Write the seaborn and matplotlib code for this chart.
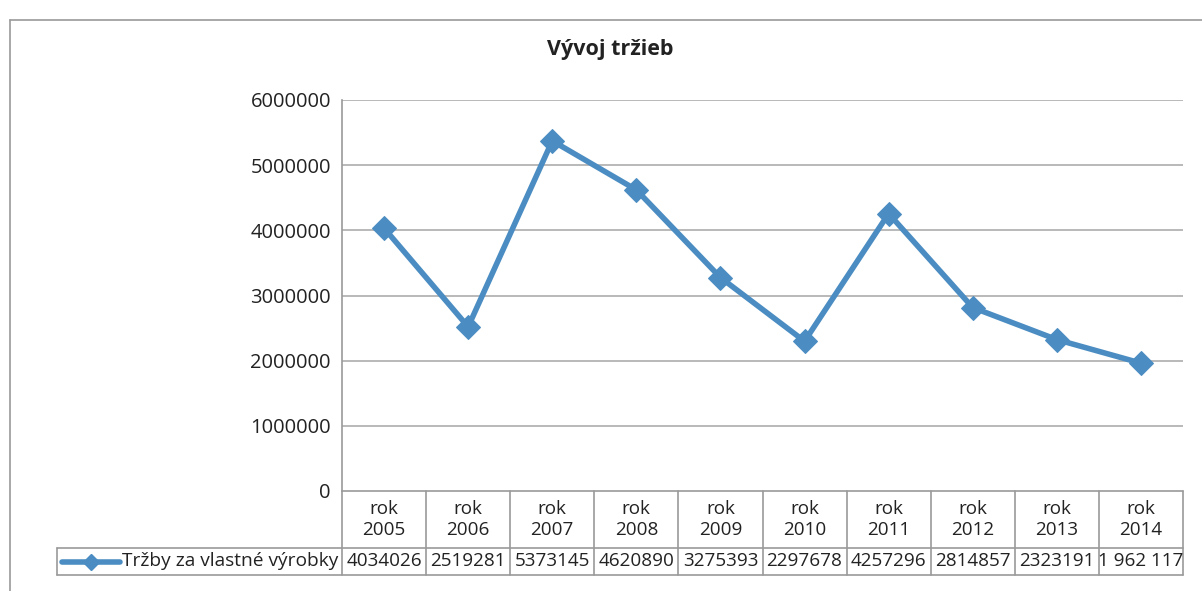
import pandas as pd
import matplotlib
matplotlib.use("Agg")
import matplotlib.pyplot as plt
import matplotlib.transforms as mtransforms
from matplotlib.lines import Line2D
import seaborn as sns

# chart data
years = ["2005", "2006", "2007", "2008", "2009", "2010", "2011", "2012", "2013", "2014"]
sales = [4034026, 2519281, 5373145, 4620890, 3275393, 2297678, 4257296, 2814857, 2323191, 1962117]
value_labels = ["4034026", "2519281", "5373145", "4620890", "3275393",
                "2297678", "4257296", "2814857", "2323191", "1 962 117"]
series_name = "Tržby za vlastné výrobky"
title = "Vývoj tržieb"
y_ticks = [0, 1000000, 2000000, 3000000, 4000000, 5000000, 6000000]

df = pd.DataFrame({"idx": range(len(years)), "sales": sales})

sns.set_theme(style="white")
plt.rcParams["font.family"] = ["Open Sans", "DejaVu Sans"]

W, H = 1202, 591
fig = plt.figure(figsize=(W / 100, H / 100), dpi=100)
ax = fig.add_axes([342 / W, 1 - 491 / H, (1183 - 342) / W, (491 - 100) / H])

line_color = "#4b8dc2"
grid_color = "#adadad"
border_color = "#9a9a9a"
text_color = "#222222"

sns.lineplot(data=df, x="idx", y="sales", ax=ax, color=line_color, lw=4,
             marker="D", markersize=12, markeredgecolor=line_color,
             markerfacecolor=line_color)

ax.set_xlim(-0.5, len(years) - 0.5)
ax.set_ylim(0, 6000000)
ax.set_yticks(y_ticks)
ax.set_yticklabels([str(v) for v in y_ticks], fontsize=14.5, color=text_color)
ax.tick_params(axis="y", length=0, pad=8)
ax.set_xticks([])
ax.set_xlabel("")
ax.set_ylabel("")
for v in y_ticks[1:]:
    ax.axhline(v, color=grid_color, lw=1.2, zorder=0)
for s in ["top", "right", "bottom"]:
    ax.spines[s].set_visible(False)
ax.spines["left"].set_color(border_color)
ax.spines["left"].set_linewidth(1.2)

# data table under the plot
tr = mtransforms.blended_transform_factory(ax.transData, ax.transAxes)
ah = 491 - 100
y_head = -(548 - 491) / ah
y_val = -(575 - 491) / ah
x_left = -0.5
x_right = len(years) - 0.5
col_px = 841 / len(years)
x_leg = -0.5 - (342 - 57) / col_px

def seg(x0, x1, y0, y1):
    ax.add_line(Line2D([x0, x1], [y0, y1], transform=tr, color=border_color,
                       lw=1.2, clip_on=False))

seg(x_left, x_right, 0, 0)
seg(x_leg, x_right, y_head, y_head)
seg(x_leg, x_right, y_val, y_val)
seg(x_leg, x_leg, y_head, y_val)
for i in range(len(years) + 1):
    seg(i - 0.5, i - 0.5, 0, y_val)

for i, (yr, val) in enumerate(zip(years, value_labels)):
    ax.text(i, y_head / 2, "rok\n" + yr, transform=tr, ha="center", va="center",
            fontsize=13.6, linespacing=1.25, color=text_color)
    ax.text(i, (y_head + y_val) / 2, val, transform=tr, ha="center", va="center",
            fontsize=13.6, color=text_color)

# legend key inside the table
key_y = (y_head + y_val) / 2
key_x0 = x_leg + 5 / col_px
key_x1 = x_leg + 63 / col_px
ax.add_line(Line2D([key_x0, key_x1], [key_y, key_y], transform=tr, color=line_color,
                   lw=4, clip_on=False))
ax.add_line(Line2D([(key_x0 + key_x1) / 2], [key_y], transform=tr, color=line_color,
                   marker="D", markersize=8, clip_on=False))
ax.text(key_x1 + 2 / col_px, key_y, series_name, transform=tr, ha="left", va="center",
        fontsize=13.8, color=text_color)

# chart frame
fig.add_artist(Line2D([10 / W, 10 / W], [1 - 20 / H, 0], transform=fig.transFigure,
                      color=border_color, lw=1.2))
fig.add_artist(Line2D([10 / W, 1], [1 - 20 / H, 1 - 20 / H], transform=fig.transFigure,
                      color=border_color, lw=1.2))

fig.text(610 / W, 1 - 50 / H, title, ha="center", va="center", fontsize=15.5,
         fontweight="bold", color=text_color)

fig.savefig("out.png", dpi=100)
